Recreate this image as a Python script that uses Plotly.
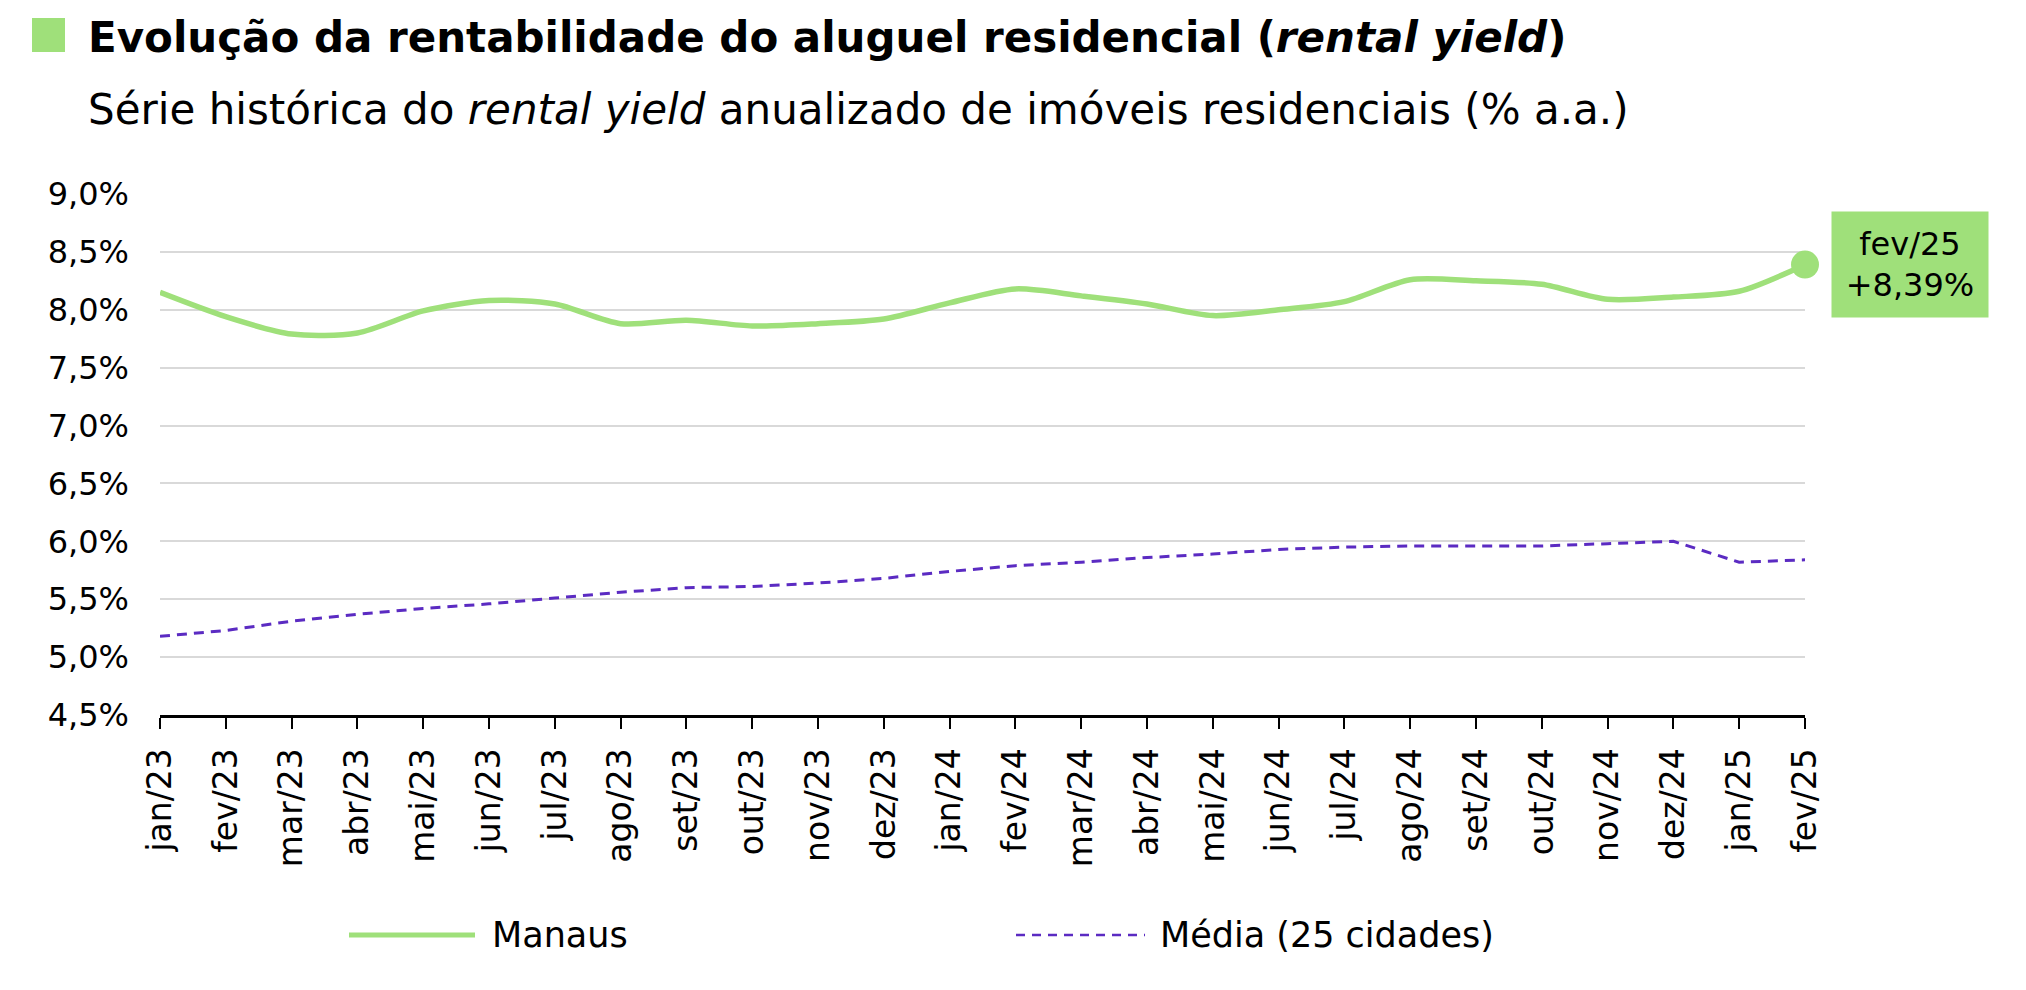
import plotly.graph_objects as go

# ---------------- data ----------------
months = ["jan/23", "fev/23", "mar/23", "abr/23", "mai/23", "jun/23", "jul/23", "ago/23",
          "set/23", "out/23", "nov/23", "dez/23", "jan/24", "fev/24", "mar/24", "abr/24",
          "mai/24", "jun/24", "jul/24", "ago/24", "set/24", "out/24", "nov/24", "dez/24",
          "jan/25", "fev/25"]
manaus = [8.15, 7.94, 7.79, 7.80, 7.99, 8.08, 8.05, 7.88, 7.91, 7.86, 7.88, 7.92, 8.06,
          8.18, 8.12, 8.05, 7.95, 8.00, 8.07, 8.26, 8.25, 8.22, 8.09, 8.11, 8.16, 8.39]
media = [5.18, 5.23, 5.31, 5.37, 5.42, 5.46, 5.51, 5.56, 5.60, 5.61, 5.64, 5.68, 5.74,
         5.79, 5.82, 5.86, 5.89, 5.93, 5.95, 5.96, 5.96, 5.96, 5.98, 6.00, 5.82, 5.84]
y_ticks = [4.5, 5.0, 5.5, 6.0, 6.5, 7.0, 7.5, 8.0, 8.5, 9.0]
y_labels = ["4,5%", "5,0%", "5,5%", "6,0%", "6,5%", "7,0%", "7,5%", "8,0%", "8,5%", "9,0%"]
series_names = ["Manaus", "Média (25 cidades)"]

title_text = "<b>Evolução da rentabilidade do aluguel residencial (<i>rental yield</i>)</b>"
subtitle_text = "Série histórica do <i>rental yield</i> anualizado de imóveis residenciais (% a.a.)"

# ---------------- style ----------------
GREEN = "#9FE07A"
PURPLE = "#5B2BC2"
GRID = "#D9D9D9"
FONT = "DejaVu Sans"
OFF = 8                      # default page body margin
W, H = 2026 - 2 * OFF, 990 - 2 * OFF
# plot area in page pixels: x 160..1805, y 194..715
L, T = 160 - OFF, 194 - OFF
R, B = W - (1805 - OFF), H - (715 - OFF)
PW, PH = W - L - R, H - T - B


def px(xp):
    """page pixel x -> paper x"""
    return (xp - OFF - L) / PW


def py(yp):
    """page pixel y -> paper y"""
    return (H - B - (yp - OFF)) / PH


fig = go.Figure()

fig.add_trace(go.Scatter(
    x=months, y=manaus, name=series_names[0], mode="lines",
    line=dict(color=GREEN, width=5.5, shape="spline", smoothing=0.8),
    cliponaxis=False, showlegend=False, hoverinfo="x+y",
))
fig.add_trace(go.Scatter(
    x=months[-1:], y=manaus[-1:], name=series_names[0], mode="markers",
    marker=dict(color=GREEN, size=28, opacity=1, line=dict(width=0)),
    cliponaxis=False, showlegend=False,
))
fig.add_trace(go.Scatter(
    x=months, y=media, name=series_names[1], mode="lines",
    line=dict(color=PURPLE, width=3, dash="10px,7px"),
    showlegend=False,
))

last_label = f"{months[-1]}<br>+{manaus[-1]:.2f}%".replace(".", ",")

annotations = [
    dict(text=title_text, xref="paper", yref="paper", x=px(86), y=py(37),
         xanchor="left", yanchor="middle", showarrow=False,
         font=dict(family=FONT, size=42, color="#000000")),
    dict(text=subtitle_text, xref="paper", yref="paper", x=px(86), y=py(110),
         xanchor="left", yanchor="middle", showarrow=False,
         font=dict(family=FONT, size=42, color="#000000")),
    dict(text=last_label, xref="x", yref="y", x=months[-1], y=manaus[-1],
         xanchor="left", yanchor="middle", xshift=26, showarrow=False,
         width=156, height=105, bgcolor=GREEN, borderpad=0, align="center", valign="middle",
         font=dict(family=FONT, size=32, color="#000000")),
    dict(text=series_names[0], xref="paper", yref="paper", x=px(490), y=py(935),
         xanchor="left", yanchor="middle", showarrow=False,
         font=dict(family=FONT, size=35, color="#000000")),
    dict(text=series_names[1], xref="paper", yref="paper", x=px(1158), y=py(935),
         xanchor="left", yanchor="middle", showarrow=False,
         font=dict(family=FONT, size=35, color="#000000")),
]

shapes = [
    dict(type="rect", xref="paper", yref="paper", x0=px(32), x1=px(65), y0=py(52), y1=py(18),
         fillcolor=GREEN, line=dict(width=0)),
    dict(type="line", xref="paper", yref="paper", x0=px(349), x1=px(475), y0=py(935), y1=py(935),
         line=dict(color=GREEN, width=5)),
    dict(type="line", xref="paper", yref="paper", x0=px(1016), x1=px(1145), y0=py(935), y1=py(935),
         line=dict(color=PURPLE, width=2.5, dash="9px,7px")),
]

fig.update_layout(
    width=W, height=H, autosize=False,
    margin=dict(l=L, r=R, t=T, b=B, pad=0),
    paper_bgcolor="white", plot_bgcolor="white",
    font=dict(family=FONT, color="#000000"),
    showlegend=False,
    annotations=annotations,
    shapes=shapes,
    xaxis=dict(
        type="category", range=[0, len(months) - 1], automargin=False,
        showgrid=False, zeroline=False,
        showline=True, linecolor="#000000", linewidth=3,
        ticks="outside", ticklen=11, tickwidth=2, tickcolor="#000000",
        tickangle=-90, tickfont=dict(family=FONT, size=33, color="#000000"),
        ticklabelstandoff=6,
    ),
    xaxis2=dict(
        overlaying="x", anchor="y", side="bottom", range=[0, len(months) - 1],
        tickmode="linear", tick0=0, dtick=1, automargin=False,
        ticks="inside", ticklen=11, tickwidth=2, tickcolor="#000000",
        showticklabels=False, showgrid=False, zeroline=False, showline=False,
    ),
    yaxis=dict(
        range=[y_ticks[0], y_ticks[-1]], automargin=False,
        tickmode="array", tickvals=y_ticks, ticktext=y_labels,
        showgrid=True, gridcolor=GRID, gridwidth=2,
        zeroline=False, showline=False, ticks="",
        tickfont=dict(family=FONT, size=32, color="#000000"),
        ticklabelstandoff=30,
    ),
)

fig.write_html("out.html")
